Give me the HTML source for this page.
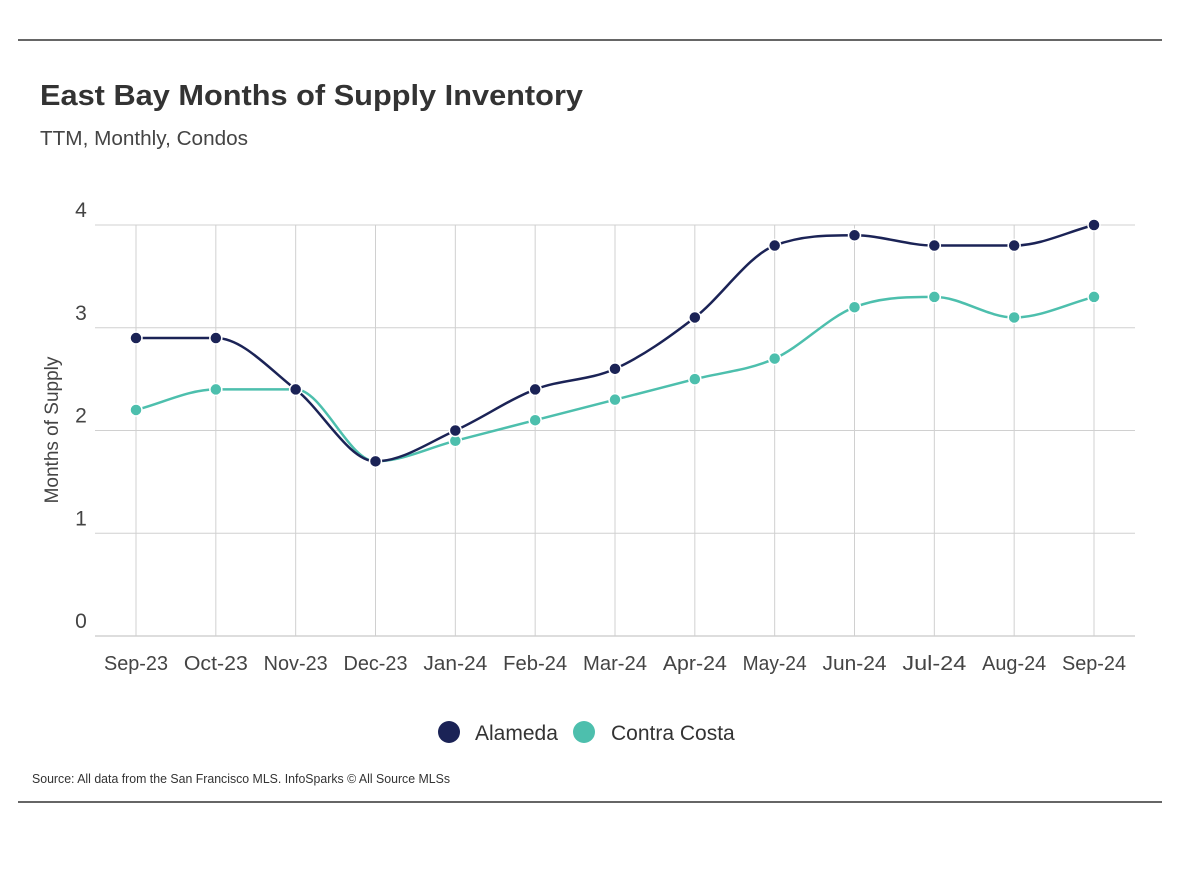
<!DOCTYPE html>
<html><head><meta charset="utf-8">
<style>
body{margin:0;background:#fff;width:1178px;height:866px;overflow:hidden;font-family:"Liberation Sans",sans-serif;}
</style></head>
<body>
<svg width="1178" height="866" viewBox="0 0 1178 866">
<line x1="18" y1="40" x2="1162" y2="40" stroke="#333" stroke-width="1.5"/>
<line x1="18" y1="802" x2="1162" y2="802" stroke="#333" stroke-width="1.5"/>
<text x="40" y="105" font-size="29" font-weight="bold" fill="#333" textLength="543" lengthAdjust="spacingAndGlyphs">East Bay Months of Supply Inventory</text>
<text x="40" y="145" font-size="20" fill="#444" textLength="208" lengthAdjust="spacingAndGlyphs">TTM, Monthly, Condos</text>
<g id="grid"></g>
<g id="lines"></g>
<text transform="translate(58,430) rotate(-90)" text-anchor="middle" font-size="19" fill="#444">Months of Supply</text>
<circle cx="449" cy="732" r="11" fill="#1b2356"/>
<text x="475" y="740" font-size="21" fill="#333">Alameda</text>
<circle cx="584" cy="732" r="11" fill="#4dbfad"/>
<text x="611" y="740" font-size="21" fill="#333">Contra Costa</text>
<text x="32" y="783" font-size="13" fill="#333" textLength="418" lengthAdjust="spacingAndGlyphs">Source:  All data from the San Francisco MLS. InfoSparks © All Source MLSs</text>
</svg>
<script>
const categories=["Sep-23","Oct-23","Nov-23","Dec-23","Jan-24","Feb-24","Mar-24","Apr-24","May-24","Jun-24","Jul-24","Aug-24","Sep-24"];
const alameda=[2.9,2.9,2.4,1.7,2.0,2.4,2.6,3.1,3.8,3.9,3.8,3.8,4.0];
const contraCosta=[2.2,2.4,2.4,1.7,1.9,2.1,2.3,2.5,2.7,3.2,3.3,3.1,3.3];
const yTicks=[0,1,2,3,4];
const NS="http://www.w3.org/2000/svg";
const x0=136,x1=1094,yBase=636,yTop=225,yMax=4;
const xs=i=>x0+(x1-x0)*i/(categories.length-1);
const ys=v=>yBase-(yBase-yTop)*v/yMax;
function mk(tag,attrs,parent){const e=document.createElementNS(NS,tag);for(const k in attrs)e.setAttribute(k,attrs[k]);parent.appendChild(e);return e;}
const grid=document.getElementById('grid'),lines=document.getElementById('lines');
yTicks.forEach(t=>{
 const l=mk('line',{x1:95,x2:1135,y1:ys(t),y2:ys(t),stroke:t===0?'#bbb':'#d0d0d0','stroke-width':1},grid);
 
 
 const tx=mk('text',{x:81,y:ys(t)-8,'text-anchor':'middle','font-size':21,fill:'#444'},grid);
 tx.textContent=t;
 
 
});
categories.forEach((c,i)=>{
 const l=mk('line',{x1:xs(i),x2:xs(i),y1:yTop,y2:yBase,stroke:'#d0d0d0','stroke-width':1},grid);
 
 
 const tx=mk('text',{x:xs(i),y:670,'text-anchor':'middle','font-size':20,fill:'#444',textLength:64,lengthAdjust:'spacingAndGlyphs'},grid);
 tx.textContent=c;
 
 
});
function monotonePath(vals){
 const n=vals.length,px=vals.map((v,i)=>xs(i)),py=vals.map(ys);
 const d=[],m=new Array(n);
 for(let i=0;i<n-1;i++)d.push((py[i+1]-py[i])/(px[i+1]-px[i]));
 m[0]=d[0];m[n-1]=d[n-2];
 for(let i=1;i<n-1;i++){m[i]=(d[i-1]*d[i]<=0)?0:(d[i-1]+d[i])/2;}
 for(let i=0;i<n-1;i++){if(d[i]===0){m[i]=0;m[i+1]=0;continue;}
  const a=m[i]/d[i],b=m[i+1]/d[i],s=a*a+b*b;if(s>9){const t=3/Math.sqrt(s);m[i]=t*a*d[i];m[i+1]=t*b*d[i];}}
 let p='M'+px[0]+','+py[0];
 for(let i=0;i<n-1;i++){const h=(px[i+1]-px[i])/3;
  p+=' C'+(px[i]+h)+','+(py[i]+m[i]*h)+' '+(px[i+1]-h)+','+(py[i+1]-m[i+1]*h)+' '+px[i+1]+','+py[i+1];}
 return p;
}
function series(vals,color,name){
 const p=mk('path',{d:monotonePath(vals),fill:'none',stroke:color,'stroke-width':2.5},lines);
 
 
 vals.forEach((v,i)=>{
  const c=mk('circle',{cx:xs(i),cy:ys(v),r:6,fill:color,stroke:'#fff','stroke-width':1.5},lines);
  
  
 });
}
series(contraCosta,'#4dbfad','contra-costa');
series(alameda,'#1b2356','alameda');
</script>
</body></html>
